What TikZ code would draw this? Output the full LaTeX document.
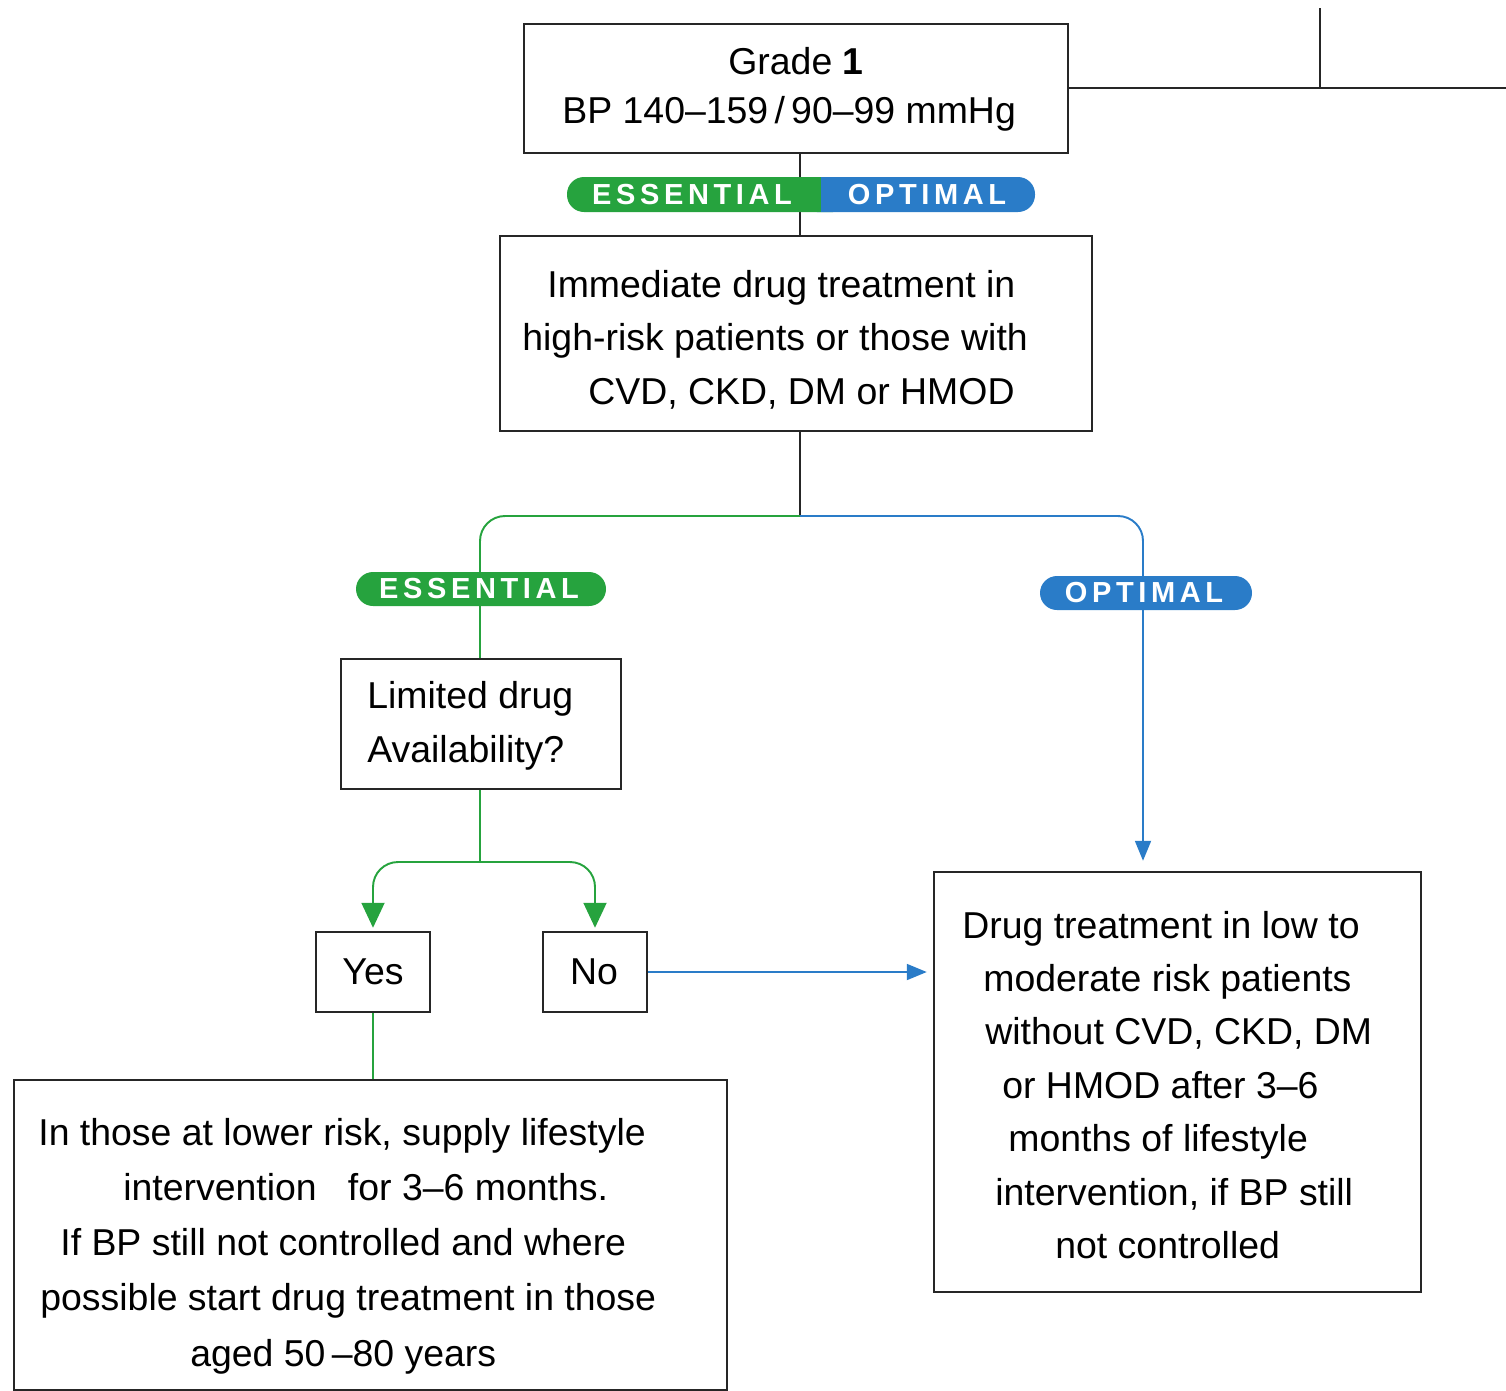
\documentclass[tikz,border=0pt]{standalone}
\usepackage{fontspec}
\setmainfont{Liberation Sans}
\newfontfamily\pillfont{Liberation Sans}[LetterSpace=16]
\usetikzlibrary{arrows.meta}
\definecolor{eg}{RGB}{38,163,62}
\definecolor{ob}{RGB}{42,124,200}
\begin{document}
\begin{tikzpicture}[x=0.02cm,y=-0.02cm,
  box/.style={draw=black!85, line width=1.4pt, fill=white, inner sep=0pt},
  txt/.style={inner sep=0pt, align=left, anchor=west, font=\fontsize{21.3}{30.4}\selectfont},
  conn/.style={line width=1.1pt},
  gline/.style={conn, draw=eg, rounded corners=0.5cm},
  bline/.style={conn, draw=ob, rounded corners=0.5cm},
  garrow/.style={-{Triangle[length=0.5cm,width=0.46cm]}},
  barrow/.style={-{Triangle[length=0.4cm,width=0.32cm]}},
  pilltext/.style={text=white, font=\pillfont\bfseries\fontsize{16.5}{18}\selectfont, inner sep=0pt},
]
\useasboundingbox (0,0) rectangle (1506,1390);

% fixed coordinates
\coordinate (sp) at (800,516);
\coordinate (gl) at (480,516);
\coordinate (br) at (1143,516);
\coordinate (ls) at (480,862);

% boxes
\node[box, minimum width=544*0.02cm, minimum height=129*0.02cm] (grade) at (796,88.5) {};
\node[box, minimum width=592*0.02cm, minimum height=195*0.02cm] (imm) at (796,333.5) {};
\node[box, minimum width=280*0.02cm, minimum height=130*0.02cm] (lim) at (481,724) {};
\node[box, minimum width=114*0.02cm, minimum height=80*0.02cm] (yes) at (373,972) {};
\node[box, minimum width=104*0.02cm, minimum height=80*0.02cm] (no) at (595,972) {};
\node[box, minimum width=713*0.02cm, minimum height=310*0.02cm] (low) at (370.5,1235) {};
\node[box, minimum width=487*0.02cm, minimum height=420*0.02cm] (drug) at (1177.5,1082) {};

% texts
\node[txt, font=\fontsize{21.3}{28}\selectfont] (gradet) at (562,89.5)
  {\hspace*{3.32cm}Grade \textbf{1}\\BP 140–159\,/\,90–99 mmHg};
\node[txt] (immt) at (522,339.5)
  {\hspace*{0.5cm}Immediate drug treatment in\\high-risk patients or those with\\\hspace*{1.32cm}CVD, CKD, DM or HMOD};
\node[txt] (limt) at (367,726) {Limited drug\\Availability?};
\node[txt, anchor=center] (yest) at (373,972) {Yes};
\node[txt, anchor=center] (not) at (594,972) {No};
\node[txt, font=\fontsize{21.3}{31.4}\selectfont] (lowt) at (38,1246)
  {In those at lower risk, supply lifestyle\\\hspace*{1.70cm}intervention \ \ for 3–6 months.\\\hspace*{0.44cm}If BP still not controlled and where\\\hspace*{0.04cm}possible start drug treatment in those\\\hspace*{3.04cm}aged 50\,–80 years};
\node[txt] (drugt) at (962,1085)
  {Drug treatment in low to\\\hspace*{0.42cm}moderate risk patients\\\hspace*{0.46cm}without CVD, CKD, DM\\\hspace*{0.80cm}or HMOD after 3–6\\\hspace*{0.92cm}months of lifestyle\\\hspace*{0.66cm}intervention, if BP still\\\hspace*{1.86cm}not controlled};

% top-right lines
\coordinate (tr) at (1506,88);
\coordinate (tj) at (1320,88);
\coordinate (tt) at (1320,8);
\draw[conn, black!85] (grade.east |- tr) -- (tr);
\draw[conn, black!85] (tt) -- (tj);

% connector grade -> immediate (behind pill)
\draw[conn, black!85] (grade.south -| sp) -- (imm.north -| sp);

% top pill
\fill[eg, rounded corners=0.34cm] (567,177) rectangle (850,212);
\fill[ob, rounded corners=0.34cm] (800,177) rectangle (1035,212);
\fill[eg] (800,177) rectangle (821,212);
\node[pilltext] (pe1) at (692,195) {ESSENTIAL};
\node[pilltext] (po1) at (927,195) {OPTIMAL};

% split below immediate box
\draw[conn, black!85] (imm.south -| sp) -- (sp);
\draw[gline] (sp) -- (gl) -- (lim.north -| gl);
\draw[bline, barrow, shorten >=0.2cm] (sp) -- (br) -- (br |- drug.north);

% middle pills
\node[fill=eg, rounded corners=0.34cm, minimum width=250*0.02cm, minimum height=34*0.02cm, inner sep=0pt] (pe2) at (481,589) {};
\node[pilltext] (pe2t) at (479,589) {ESSENTIAL};
\node[fill=ob, rounded corners=0.34cm, minimum width=212*0.02cm, minimum height=34*0.02cm, inner sep=0pt] (po2) at (1146,593) {};
\node[pilltext] (po2t) at (1144,593) {OPTIMAL};

% limited -> yes/no
\draw[conn, draw=eg] (lim.south -| ls) -- (ls);
\draw[gline, garrow, shorten >=0.06cm] (ls) -- (ls -| yes.north) -- (yes.north);
\draw[gline, garrow, shorten >=0.06cm] (ls) -- (ls -| no.north) -- (no.north);

% yes -> low, no -> drug
\draw[conn, draw=eg] (yes.south) -- (yes.south |- low.north);
\draw[conn, draw=ob, barrow] (no.east) -- ([xshift=-0.12cm]drug.west |- no.east);
\end{tikzpicture}
\end{document}
